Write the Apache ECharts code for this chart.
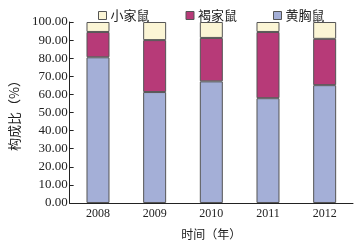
<!DOCTYPE html>
<html><head><meta charset="utf-8">
<script src="https://cdn.jsdelivr.net/npm/echarts@6/dist/echarts.min.js"></script>
<style>html,body{margin:0;padding:0;background:#fff}#c{width:359px;height:245px}</style>
</head><body><div id="c"></div>
<script>
const years = ['2008','2009','2010','2011','2012'];
const huangxiong = [80.5, 61.3, 67.2, 57.9, 65.1];
const hejia = [14.0, 28.7, 24.0, 36.6, 25.6];
const xiaojia = [5.5, 10.0, 8.8, 5.5, 9.3];
const yTicks = [0,10,20,30,40,50,60,70,80,90,100];

const chart = echarts.init(document.getElementById('c'));
const serif = '"Liberation Serif","DejaVu Serif",serif';
const cjk = '"Noto Sans CJK SC",sans-serif';
function bar(name, data, color){
  return {name, type:'bar', stack:'s', data, barWidth:23,
    itemStyle:{color, borderColor:'#555', borderWidth:1}};
}
chart.setOption({
  animation:false,
  legend:{top:4, left:93, icon:'rect', itemWidth:8, itemHeight:8, itemGap:36,
    data:['小家鼠','褐家鼠','黄胸鼠'],
    itemStyle:{borderColor:'#555', borderWidth:1},
    textStyle:{fontFamily:cjk, fontSize:13, color:'#222', padding:[0,0,0,-1]}},
  grid:{left:57, right:6, top:22, bottom:37},
  xAxis:{type:'category', data:years, name:'时间（年）', nameLocation:'middle', nameGap:25,
    nameTextStyle:{fontFamily:cjk, fontSize:12, color:'#222'},
    axisLine:{lineStyle:{color:'#222'}},
    axisTick:{inside:true, length:3, lineStyle:{color:'#222'}},
    axisLabel:{fontFamily:serif, fontSize:12, color:'#222', margin:5}},
  yAxis:{type:'value', min:0, max:100, interval:10, name:'构成比（%）', nameLocation:'middle', nameGap:45,
    nameTextStyle:{fontFamily:cjk, fontSize:13, color:'#222'},
    axisLine:{show:true, lineStyle:{color:'#222'}},
    axisTick:{show:true, inside:true, length:4, lineStyle:{color:'#222'}},
    splitLine:{show:false},
    axisLabel:{fontFamily:serif, fontSize:13, color:'#222', margin:2,
      formatter:v=>yTicks.includes(v)?v.toFixed(2):''}},
  series:[
    bar('黄胸鼠', huangxiong, '#A4AFD7'),
    bar('褐家鼠', hejia, '#B73A78'),
    bar('小家鼠', xiaojia, '#FBF5D5')
  ]
});
</script></body></html>
